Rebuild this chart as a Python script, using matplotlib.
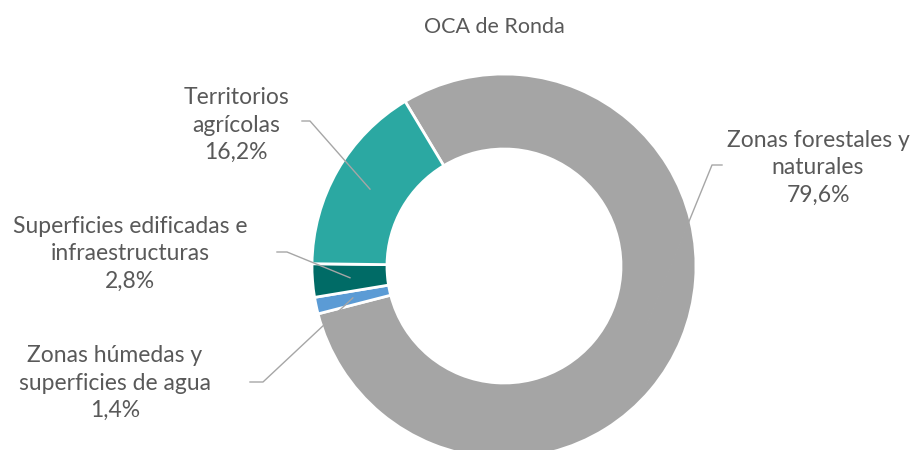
import numpy as np
import matplotlib.pyplot as plt

plt.rcParams['font.family'] = ['Lato', 'DejaVu Sans']

# data
categories = ['Zonas forestales y\nnaturales', 'Zonas húmedas y\nsuperficies de agua',
              'Superficies edificadas e\ninfraestructuras', 'Territorios\nagrícolas']
values = [79.6, 1.4, 2.8, 16.2]
colors = ['#A5A5A5', '#5B9BD5', '#006B66', '#2BA8A2']

# layout (pixel coords, y from top)
center_px = (504, 266)
radius = 192
hole = 117
label_pos = [(818, 168), (115, 383), (130, 254), (236, 125)]
elbow = [(712, 165), (263, 382), (287, 252), (310, 121)]
stub = [(722, 165), (250, 382), (277, 252), (302, 121)]

W, H = 913, 450
fig = plt.figure(figsize=(W / 100, H / 100), dpi=100)
ax = fig.add_axes([0, 0, 1, 1])

cx, cy = center_px[0], H - center_px[1]
wedges, _ = ax.pie(values, colors=colors, startangle=121, counterclock=False,
                   center=(cx, cy), radius=radius,
                   wedgeprops=dict(width=radius - hole, edgecolor='white', linewidth=2))

text_col = '#595959'
line_col = '#A6A6A6'
rmid = (radius + hole) / 2
for w, lab, v, lp, eb, st in zip(wedges, categories, values, label_pos, elbow, stub):
    ang = np.deg2rad((w.theta1 + w.theta2) / 2)
    px, py = cx + rmid * np.cos(ang), cy + rmid * np.sin(ang)
    ax.plot([st[0], eb[0], px], [H - st[1], H - eb[1], py], color=line_col, lw=1, zorder=3)
    txt = lab + '\n' + f'{v:.1f}%'.replace('.', ',')
    ax.text(lp[0], H - lp[1], txt, ha='center', va='center', fontsize=16.5,
            color=text_col, linespacing=1.38)

ax.text(494, H - 27, 'OCA de Ronda', ha='center', va='center', fontsize=15.5, color=text_col)

ax.set_xlim(0, W)
ax.set_ylim(0, H)
ax.set_aspect('auto')
ax.axis('off')

fig.savefig('out.png', dpi=100)
